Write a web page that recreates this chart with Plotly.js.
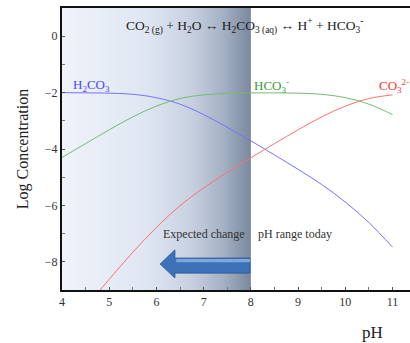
<!DOCTYPE html>
<html>
<head>
<meta charset="utf-8">
<script src="https://cdn.plot.ly/plotly-3.0.1.min.js"></script>
<style>html,body{margin:0;padding:0;background:#fff;}#chart{width:410px;height:343px;}</style>
</head>
<body>
<div id="chart"></div>
<script>
// pH values
const pH = [4, 4.5, 5, 5.5, 6, 6.5, 7, 7.5, 8, 8.5, 9, 9.5, 10, 10.5, 11];
// log concentration
const h2co3 = [-2.00, -2.01, -2.02, -2.06, -2.18, -2.41, -2.78, -3.23, -3.71, -4.21, -4.72, -5.26, -5.88, -6.61, -7.48];
const hco3  = [-4.30, -3.81, -3.32, -2.86, -2.48, -2.21, -2.08, -2.03, -2.01, -2.01, -2.02, -2.06, -2.18, -2.41, -2.78];
const co3   = [-10.6, -9.61, -8.62, -7.66, -6.78, -6.01, -5.38, -4.83, -4.31, -3.81, -3.32, -2.86, -2.48, -2.21, -2.08];
// shaded pH band (expected change region) and axis limits
const shadePH = [4, 8];
const yLimits = [-9, 1];
const xTickVals = [4, 5, 6, 7, 8, 9, 10, 11];
const yTickVals = [-8, -6, -4, -2, 0];

const serif = "Liberation Serif, Times New Roman, serif";

const shade = {
  x: [shadePH[0], shadePH[1], shadePH[1], shadePH[0], shadePH[0]],
  y: [yLimits[0], yLimits[0], yLimits[1], yLimits[1], yLimits[0]],
  mode: 'lines', line: {width: 0}, fill: 'toself',
  fillgradient: {type: 'horizontal', colorscale: [
    [0, '#eff3fa'], [0.45, '#dfe6f2'], [0.68, '#c8d1e1'], [0.86, '#a3b0c3'], [1, '#7a889d']
  ]},
  hoverinfo: 'skip', showlegend: false
};

const mk = (y, c) => ({x: pH, y: y, mode: 'lines', line: {color: c, width: 1, shape: 'spline'}, showlegend: false});

const data = [shade, mk(h2co3, '#7373ff'), mk(hco3, '#70bd70'), mk(co3, '#ff7070')];

const layout = {
  width: 410, height: 343,
  margin: {l: 62, r: 0, t: 8, b: 53},
  paper_bgcolor: '#fff', plot_bgcolor: '#fff',
  showlegend: false,
  xaxis: {
    range: [4, 11.37], tickvals: xTickVals, ticks: 'inside', ticklen: 3, tickcolor: '#555',
    minor: {dtick: 0.5, tick0: 4, ticks: 'inside', ticklen: 3, tickcolor: '#777'},
    showline: true, linecolor: '#111', linewidth: 2, mirror: true, showgrid: false, zeroline: false,
    tickfont: {family: serif, size: 12, color: '#333'}
  },
  yaxis: {
    range: yLimits, tickvals: yTickVals, ticks: 'inside', ticklen: 3, tickcolor: '#555',
    minor: {dtick: 1, tick0: 0, ticks: 'inside', ticklen: 3, tickcolor: '#777'},
    showline: true, linecolor: '#111', linewidth: 2, showgrid: false, zeroline: false,
    tickfont: {family: serif, size: 12, color: '#333'},
    title: {text: 'Log Concentration', font: {family: serif, size: 16, color: '#222'}, standoff: 12}
  },
  shapes: [
    {type: 'path', xref: 'x', yref: 'y',
     path: 'M7.98,-7.87 L6.39,-7.87 L6.39,-7.58 L6.08,-8.08 L6.39,-8.57 L6.39,-8.40 L7.98,-8.40 Z',
     fillcolor: '#3d72b8', line: {color: '#2b5b99', width: 1}},
    {type: 'path', xref: 'x', yref: 'y',
     path: 'M7.98,-7.9 L6.42,-7.9 L6.42,-8.02 L7.98,-8.02 Z',
     fillcolor: '#7ea8dc', line: {width: 0}}
  ],
  annotations: [
    {xref: 'paper', yref: 'paper', x: 0.891, y: -0.152, xanchor: 'center', yanchor: 'middle', showarrow: false,
     text: 'pH', font: {family: serif, size: 17, color: '#222'}},
    {xref: 'paper', yref: 'paper', x: 0.525, y: 0.935, xanchor: 'center', yanchor: 'middle', showarrow: false,
     text: 'CO<sub>2 (g)</sub> + H<sub>2</sub>O ↔ H<sub>2</sub>CO<sub>3 (aq)</sub> ↔ H<sup>+</sup> + HCO<sub>3</sub><sup>-</sup>',
     font: {family: serif, size: 13.5, color: '#222'}},
    {x: 4.2, y: -1.75, xanchor: 'left', yanchor: 'middle', showarrow: false,
     text: 'H<sub>2</sub>CO<sub>3</sub>', font: {family: serif, size: 13, color: '#4848ff'}},
    {x: 8.03, y: -1.75, xanchor: 'left', yanchor: 'middle', showarrow: false,
     text: 'HCO<sub>3</sub><sup>-</sup>', font: {family: serif, size: 13, color: '#3a9a3a'}},
    {x: 10.68, y: -1.75, xanchor: 'left', yanchor: 'middle', showarrow: false,
     text: 'CO<sub>3</sub><sup>2-</sup>', font: {family: serif, size: 13, color: '#ff3333'}},
    {x: 6.1, y: -7.0, xanchor: 'left', yanchor: 'middle', showarrow: false,
     text: 'Expected change', font: {family: serif, size: 12, color: '#333'}},
    {x: 8.1, y: -7.0, xanchor: 'left', yanchor: 'middle', showarrow: false,
     text: 'pH range today', font: {family: serif, size: 12, color: '#333'}}
  ]
};

Plotly.newPlot('chart', data, layout, {displayModeBar: false, staticPlot: true});
</script>
</body>
</html>
